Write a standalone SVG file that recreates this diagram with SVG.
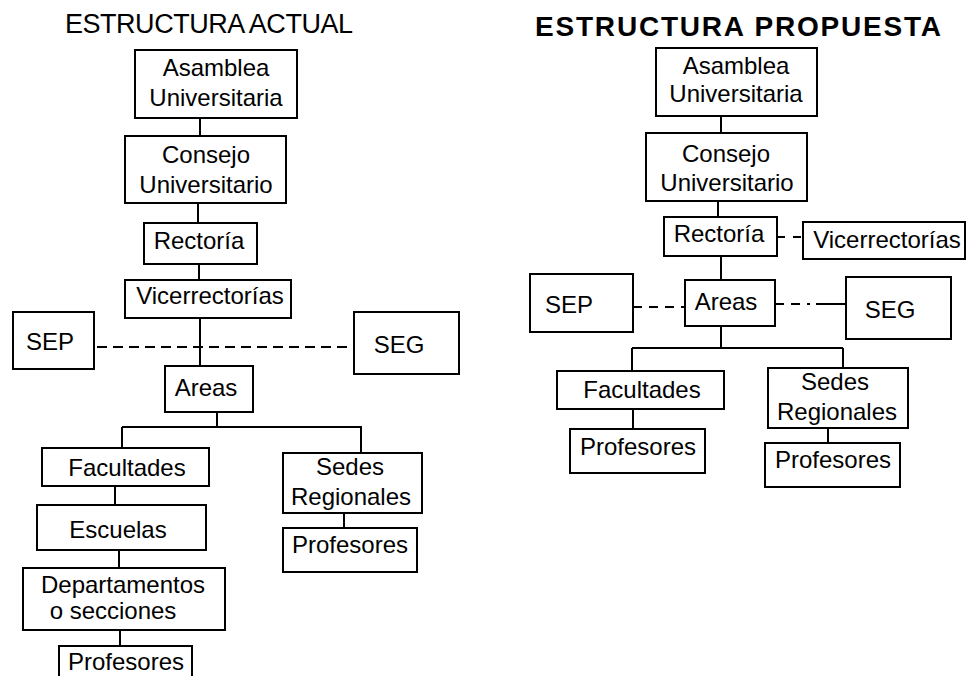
<svg xmlns="http://www.w3.org/2000/svg" width="966" height="676" viewBox="0 0 966 676">
<style>
.box{fill:#fff;stroke:#000;stroke-width:2}
.t{font-family:"Liberation Sans",Arial,sans-serif;font-size:24px;fill:#000;text-anchor:middle}
.title{font-family:"Liberation Sans",Arial,sans-serif;font-size:27px;fill:#000}
.line{stroke:#000;stroke-width:2;fill:none}
.dash{stroke:#000;stroke-width:2;fill:none;stroke-dasharray:10 6}
</style>
<rect x="0" y="0" width="966" height="676" fill="#fff"/>
<text class="title" x="65" y="33" textLength="288">ESTRUCTURA ACTUAL</text>
<text class="title" x="535" y="36" textLength="406" style="font-weight:bold;font-size:28px">ESTRUCTURA PROPUESTA</text>
<g id="connectors">
<path class="line" d="M200 118V136M198 203V223M199 264V280M200 318V366M217 412V427M122 427H362M122 427V448M361 427V453M115 486V505M119 550V568M120 630V646M344 513V528"/>
<path class="dash" d="M97 347H348"/>
<path class="line" d="M721 116V133M718 201V217M721 256V280M721 326V348M632 348H843M632 348V371M843 348V368M633 409V429M828 428V443"/>
<path class="dash" d="M777 237H803" style="stroke-dasharray:8 8"/>
<path class="dash" d="M633 307H685" style="stroke-dasharray:9 7"/>
<path class="dash" d="M775 304H846" style="stroke-dasharray:9 7 9 7 3 6 20 0"/>
</g>
<g id="a-asamblea"><rect class="box" x="135" y="50" width="162" height="68"/><text class="t" x="216" y="76">Asamblea</text><text class="t" x="216" y="106">Universitaria</text></g>
<g id="a-consejo"><rect class="box" x="125" y="136" width="161" height="67"/><text class="t" x="206" y="163">Consejo</text><text class="t" x="206" y="193">Universitario</text></g>
<g id="a-rectoria"><rect class="box" x="144" y="223" width="113" height="41"/><text class="t" x="199" y="249">Rectoría</text></g>
<g id="a-vicerrectorias"><rect class="box" x="125" y="280" width="166" height="38"/><text class="t" x="210" y="304">Vicerrectorías</text></g>
<g id="a-sep"><rect class="box" x="13" y="312" width="81" height="57"/><text class="t" x="50" y="350">SEP</text></g>
<g id="a-seg"><rect class="box" x="354" y="312" width="105" height="62"/><text class="t" x="399" y="353">SEG</text></g>
<g id="a-areas"><rect class="box" x="165" y="366" width="88" height="46"/><text class="t" x="206" y="396">Areas</text></g>
<g id="a-facultades"><rect class="box" x="42" y="448" width="167" height="38"/><text class="t" x="127" y="476">Facultades</text></g>
<g id="a-escuelas"><rect class="box" x="37" y="505" width="169" height="45"/><text class="t" x="118" y="538">Escuelas</text></g>
<g id="a-departamentos"><rect class="box" x="23" y="568" width="202" height="62"/><text class="t" x="123" y="593">Departamentos</text><text class="t" x="113" y="619">o secciones</text></g>
<g id="a-profesores1"><rect class="box" x="59" y="646" width="133" height="42"/><text class="t" x="126" y="670">Profesores</text></g>
<g id="a-sedes"><rect class="box" x="283" y="453" width="139" height="60"/><text class="t" x="350" y="475">Sedes</text><text class="t" x="351" y="505">Regionales</text></g>
<g id="a-profesores2"><rect class="box" x="283" y="528" width="134" height="44"/><text class="t" x="350" y="553">Profesores</text></g>
<g id="p-asamblea"><rect class="box" x="656" y="48" width="161" height="68"/><text class="t" x="736" y="74">Asamblea</text><text class="t" x="736" y="102">Universitaria</text></g>
<g id="p-consejo"><rect class="box" x="646" y="133" width="161" height="68"/><text class="t" x="726" y="162">Consejo</text><text class="t" x="727" y="191">Universitario</text></g>
<g id="p-rectoria"><rect class="box" x="664" y="217" width="113" height="39"/><text class="t" x="719" y="242">Rectoría</text></g>
<g id="p-vicerrectorias"><rect class="box" x="803" y="222" width="162" height="37"/><text class="t" x="887" y="248">Vicerrectorías</text></g>
<g id="p-sep"><rect class="box" x="530" y="274" width="103" height="58"/><text class="t" x="569" y="313">SEP</text></g>
<g id="p-areas"><rect class="box" x="685" y="280" width="90" height="46"/><text class="t" x="726" y="310">Areas</text></g>
<g id="p-seg"><rect class="box" x="846" y="277" width="105" height="62"/><text class="t" x="890" y="318">SEG</text></g>
<g id="p-facultades"><rect class="box" x="557" y="371" width="167" height="38"/><text class="t" x="642" y="398">Facultades</text></g>
<g id="p-profesores1"><rect class="box" x="570" y="429" width="135" height="44"/><text class="t" x="638" y="455">Profesores</text></g>
<g id="p-sedes"><rect class="box" x="768" y="368" width="140" height="60"/><text class="t" x="835" y="390">Sedes</text><text class="t" x="837" y="420">Regionales</text></g>
<g id="p-profesores2"><rect class="box" x="765" y="443" width="135" height="44"/><text class="t" x="833" y="468">Profesores</text></g>
</svg>
